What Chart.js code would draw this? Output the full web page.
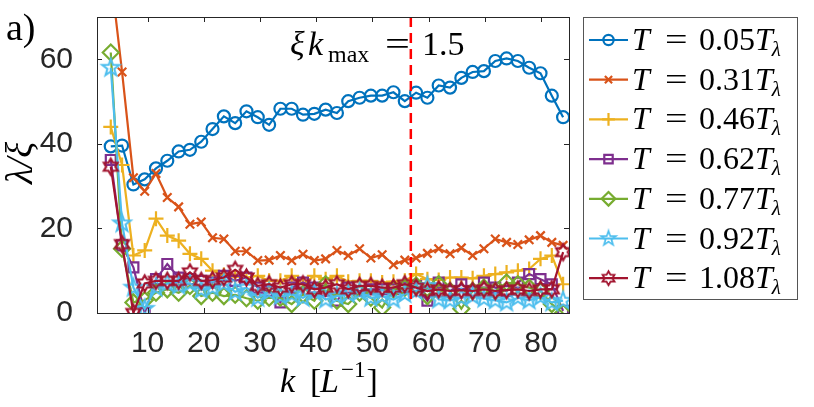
<!DOCTYPE html>
<html>
<head>
<meta charset="utf-8">
<script src="https://cdn.jsdelivr.net/npm/chart.js@4.4.1/dist/chart.umd.min.js"></script>
<style>
  html, body { margin: 0; padding: 0; background: #fff; }
  #wrap { width: 814px; height: 407px; }
</style>
</head>
<body>
<div id="wrap"><canvas id="lambdaChart" width="814" height="407"></canvas></div>
<script>
// k values (L^-1) of the sampled points
const kValues = [3.45, 5.46, 7.48, 9.49, 11.50, 13.51, 15.53, 17.54, 19.55, 21.56,
                 23.58, 25.59, 27.60, 29.61, 31.63, 33.64, 35.65, 37.66, 39.68, 41.69,
                 43.70, 45.71, 47.73, 49.74, 51.75, 53.76, 55.78, 57.79, 59.80, 61.81,
                 63.83, 65.84, 67.85, 69.86, 71.88, 73.89, 75.90, 77.91, 79.93, 81.94, 83.95];

// lambda / xi for each temperature
const t005 = [39.4, 39.6, 30.4, 31.6, 34.2, 36.0, 38.2, 38.6, 40.5, 43.5, 46.5, 44.9, 47.7, 46.3,
              44.5, 48.3, 48.3, 46.9, 47.1, 48.1, 47.3, 50.1, 50.9, 51.4, 51.4, 52.2, 50.1, 52.1,
              50.9, 53.8, 53.3, 55.6, 57.0, 57.2, 59.6, 60.2, 59.6, 58.0, 56.7, 51.4, 46.3];
const t031 = [80, 57, 32, 28.8, 33, 27.3, 25.1, 21, 21.5, 17.8, 17.5, 14.6, 14.6, 12.4,
              12.5, 13.6, 12.4, 13.9, 12.4, 12.8, 14.8, 13.6, 15.2, 13, 13.8, 11.4, 12.5, 13,
              14.1, 15.2, 14, 15.4, 13.6, 15.2, 17.5, 16.7, 16.2, 17.3, 18.3, 16.7, 16];
const t046 = [44, 35, 13.6, 14.8, 22.3, 18.3, 17.1, 14, 12.8, 10, 9, 8.6, 8.4, 8.8,
              7.6, 7.6, 8.8, 6.8, 8.8, 8, 8.8, 7.4, 7.6, 7.6, 7.2, 7.4, 7.6, 9.2,
              8, 7.8, 8.4, 8.4, 8.2, 8.8, 9.2, 9.6, 10, 10.4, 12.8, 13.6, 6.8];
const t062 = [36.2, 16, 10.8, 0, 8, 11.6, 8.4, 8, 7.6, 7.2, 8.8, 7.6, 8.4, 6,
              5.2, 2.5, 6, 7.2, 6, 5.2, 2.9, 6, 5.2, 5.6, 5.6, 5.6, 6, 6.4,
              2.9, 7.2, 5.2, 6.8, 5.2, 7.2, 6, 5.2, 7.2, 9.2, 8, 6.8, 0.5];
const t077 = [61.6, 15.2, 2.5, 3, 4.8, 5.6, 4.8, 6.4, 4, 4.8, 4, 4.3, 3.5, 2.9,
              3.6, 3.6, 2.1, 4.4, 2.9, 6.8, 2.9, 2.1, 4.8, 3.6, 1.3, 5.6, 6, 6.5,
              4, 6.8, 5.2, 1, 5.2, 6, 5.2, 7.2, 6.8, 6, 5.2, 2.1, 0];
const t092 = [58, 21.2, 6, 1, 6, 7, 6.5, 7, 5.5, 6, 7, 5, 6, 3.6,
              5, 4, 4.4, 3.6, 5, 3.2, 4, 4.5, 5, 3.6, 4, 3.2, 4.5, 5.2,
              6.4, 3.2, 3, 3.6, 4, 3.4, 3, 2.5, 3.6, 3, 3.8, 2.5, 2.9];
const t108 = [34.6, 16.3, 0, 7, 7.6, 7.6, 7.6, 9.6, 7.6, 7.8, 8.4, 10.2, 8.4, 6.4,
              6.8, 6, 6.8, 6.8, 5.6, 6, 6.8, 5.6, 6.4, 6.4, 6, 6, 6.8, 6,
              5.2, 5.6, 5.2, 5.4, 5.2, 5.6, 5.2, 5.4, 5.6, 5.2, 5.6, 5.6, 14.4];

const tempLabels = ['0.05', '0.31', '0.46', '0.62', '0.77', '0.92', '1.08'];
const xTicks = [10, 20, 30, 40, 50, 60, 70, 80];
const yTicks = [0, 20, 40, 60];
const kMax = 56.85; // xi * k_max = 1.5

const colors = ['#0072BD', '#D95319', '#EDB120', '#7E2F8E', '#77AC30', '#4DBEEE', '#A2142F'];
const axisColor = '#262626';
const serif = '"Liberation Serif", "DejaVu Serif", serif';
const sans = '"Liberation Sans", Arial, sans-serif';

// MATLAB style pentagram / hexagram markers (open outlines)
function starMarker(points, outer, inner, color, lw) {
    const pad = lw + 1;
    const size = Math.ceil(2 * (outer + pad));
    const c = document.createElement('canvas');
    c.width = size;
    c.height = size;
    const g = c.getContext('2d');
    g.translate(size / 2, size / 2);
    g.beginPath();
    for (let i = 0; i < points * 2; i++) {
        const r = i % 2 === 0 ? outer : inner;
        const a = -Math.PI / 2 + i * Math.PI / points;
        const px = r * Math.cos(a), py = r * Math.sin(a);
        if (i === 0) g.moveTo(px, py); else g.lineTo(px, py);
    }
    g.closePath();
    g.strokeStyle = color;
    g.lineWidth = lw;
    g.lineJoin = 'miter';
    g.stroke();
    return c;
}

const pentagram = starMarker(5, 9, 3.6, colors[5], 2);
const hexagram = starMarker(6, 8, 4.6, colors[6], 2.2);

const series = [t005, t031, t046, t062, t077, t092, t108];
const styles = ['circle', 'crossRot', 'cross', 'rect', 'rectRot', pentagram, hexagram];
const radii = [6, 6, 7.5, 7, 8, 9, 8];

const datasets = series.map((vals, i) => ({
    label: 'T = ' + tempLabels[i] + 'Tλ',
    data: vals.map((v, j) => ({ x: kValues[j], y: v })),
    borderColor: colors[i],
    backgroundColor: colors[i],
    borderWidth: 2.2,
    pointStyle: styles[i],
    pointRadius: radii[i],
    pointBorderWidth: 2.2,
    pointBorderColor: colors[i],
    pointBackgroundColor: 'rgba(0,0,0,0)',
    order: series.length - i,
    tension: 0
}));

// draw one piece of text, optionally stretched horizontally
function piece(ctx, text, font, x, y, sx) {
    ctx.font = font;
    if (sx) {
        ctx.save();
        ctx.translate(x, y);
        ctx.scale(sx, 1);
        ctx.fillText(text, 0, 0);
        ctx.restore();
        return x + ctx.measureText(text).width * sx;
    }
    ctx.fillText(text, x, y);
    return x + ctx.measureText(text).width;
}

const decorations = {
    id: 'decorations',
    afterDatasetsDraw(chart) {
        const { ctx, chartArea: a, scales: { x } } = chart;
        const px = x.getPixelForValue(kMax);
        ctx.save();
        ctx.strokeStyle = '#FF0000';
        ctx.lineWidth = 2.5;
        ctx.setLineDash([10, 6]);
        ctx.beginPath();
        ctx.moveTo(px, a.top);
        ctx.lineTo(px, a.bottom);
        ctx.stroke();
        ctx.restore();
    },
    afterDraw(chart) {
        const { ctx, chartArea: a, scales: { x, y } } = chart;
        ctx.save();
        // axes box + inward ticks
        ctx.strokeStyle = axisColor;
        ctx.lineWidth = 1;
        ctx.strokeRect(a.left + 0.5, a.top + 0.5, a.right - a.left, a.bottom - a.top);
        ctx.beginPath();
        xTicks.forEach(v => {
            const p = Math.round(x.getPixelForValue(v)) + 0.5;
            ctx.moveTo(p, a.bottom); ctx.lineTo(p, a.bottom - 5);
            ctx.moveTo(p, a.top); ctx.lineTo(p, a.top + 5);
        });
        yTicks.forEach(v => {
            const p = Math.round(y.getPixelForValue(v)) + 0.5;
            ctx.moveTo(a.left, p); ctx.lineTo(a.left + 5, p);
            ctx.moveTo(a.right, p); ctx.lineTo(a.right - 5, p);
        });
        ctx.stroke();

        ctx.fillStyle = '#000';
        ctx.textBaseline = 'alphabetic';
        ctx.textAlign = 'left';

        // panel label
        piece(ctx, 'a)', '38px ' + serif, 6, 40);

        // annotation: xi k_max = 1.5
        const big = '34px ' + serif, bigIt = 'italic 34px ' + serif;
        piece(ctx, 'ξ', bigIt, 290, 55);
        piece(ctx, 'k', bigIt, 308, 55);
        piece(ctx, 'max', '24px ' + serif, 328, 62);
        piece(ctx, '=', big, 385, 55, 1.3);
        piece(ctx, '1.5', big, 422, 55);

        // x axis title
        piece(ctx, 'k', bigIt, 280, 392);
        piece(ctx, '[', big, 310, 392);
        let lx = piece(ctx, 'L', bigIt, 320, 392);
        lx = piece(ctx, '−1', '23px ' + serif, lx + 2, 377);
        piece(ctx, ']', big, lx + 1, 392);

        // y axis title
        ctx.save();
        ctx.translate(32, 163);
        ctx.rotate(-Math.PI / 2);
        ctx.font = 'italic 37px ' + serif;
        ctx.textAlign = 'center';
        ctx.fillText('λ/ξ', 0, 0);
        ctx.restore();

        // legend
        ctx.fillStyle = '#fff';
        ctx.fillRect(583, 17, 214, 282);
        ctx.strokeStyle = '#555';
        ctx.lineWidth = 1;
        ctx.strokeRect(583.5, 17.5, 214, 282);
        const lf = '32px ' + serif, lfIt = 'italic 32px ' + serif;
        chart.data.datasets.forEach((ds, i) => {
            const cy = 40 + i * 39.7;
            ctx.strokeStyle = ds.borderColor;
            ctx.lineWidth = 2.2;
            ctx.beginPath();
            ctx.moveTo(589, cy); ctx.lineTo(628, cy);
            ctx.stroke();
            ctx.fillStyle = 'rgba(0,0,0,0)';
            if (typeof ds.pointStyle === 'string') {
                Chart.helpers.drawPoint(ctx, {
                    pointStyle: ds.pointStyle,
                    radius: ds.pointRadius * 0.85,
                    borderWidth: 2.2,
                    rotation: 0
                }, 608.5, cy);
            } else {
                const img = ds.pointStyle, s = 0.85;
                ctx.drawImage(img, 608.5 - img.width * s / 2, cy - img.height * s / 2,
                    img.width * s, img.height * s);
            }
            ctx.fillStyle = '#000';
            const base = cy + 10;
            piece(ctx, 'T', lfIt, 632, base);
            piece(ctx, '=', lf, 665, base, 1.25);
            let nx = piece(ctx, tempLabels[i], lf, 699, base);
            nx = piece(ctx, 'T', lfIt, nx, base);
            piece(ctx, 'λ', 'italic 21px ' + serif, nx - 1, base + 6);
        });
        ctx.restore();
    }
};

new Chart(document.getElementById('lambdaChart'), {
    type: 'line',
    data: { datasets: datasets },
    options: {
        responsive: false,
        animation: false,
        layout: { padding: { left: 0, top: 17, right: 245, bottom: 0 } },
        plugins: { legend: { display: false }, tooltip: { enabled: false } },
        scales: {
            x: {
                type: 'linear',
                min: 1,
                max: 85,
                afterBuildTicks: scale => { scale.ticks = xTicks.map(v => ({ value: v })); },
                afterFit: scale => {
                    scale.height = 94;
                    scale.paddingLeft = 0;
                    scale.paddingRight = 0;
                },
                grid: { display: false, drawTicks: false },
                border: { display: false },
                ticks: {
                    color: axisColor,
                    padding: 13,
                    maxRotation: 0,
                    autoSkip: false,
                    font: { family: sans, size: 30 }
                }
            },
            y: {
                min: 0,
                max: 70,
                afterBuildTicks: scale => { scale.ticks = yTicks.map(v => ({ value: v })); },
                afterFit: scale => {
                    scale.width = 97;
                    scale.paddingTop = 0;
                    scale.paddingBottom = 0;
                },
                grid: { display: false, drawTicks: false },
                border: { display: false },
                ticks: {
                    color: axisColor,
                    padding: 24,
                    font: { family: sans, size: 30 }
                }
            }
        }
    },
    plugins: [decorations]
});
</script>
</body>
</html>
